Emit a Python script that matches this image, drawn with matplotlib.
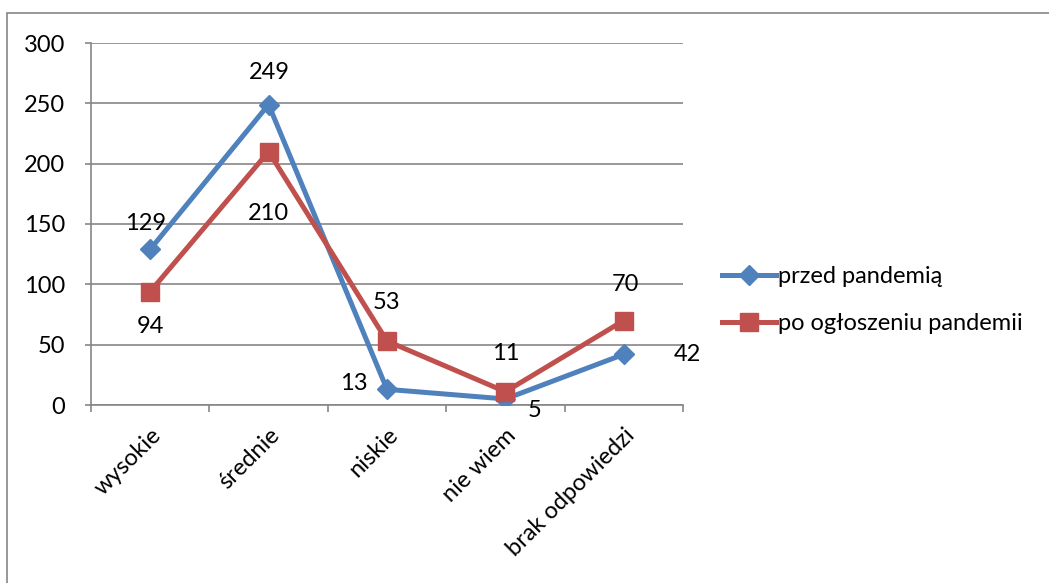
import matplotlib
matplotlib.use("Agg")
import matplotlib.pyplot as plt
import matplotlib.transforms as mtransforms
from matplotlib.patches import Rectangle

categories = ["wysokie", "średnie", "niskie", "nie wiem", "brak odpowiedzi"]
przed = [129, 249, 13, 5, 42]
po = [94, 210, 53, 11, 70]
series_names = ["przed pandemią", "po ogłoszeniu pandemii"]

# label offsets in pixels (dx, dy)
przed_offsets = [(-5, 26), (1, 32), (-33, 6), (29, -12), (64, 0)]
po_offsets = [(0, -35), (0, -62), (0, 39), (0, 38), (2, 36)]

blue = "#4F81BD"
red = "#C0504D"
grid = "#868686"

plt.rcParams["font.family"] = ["Lato", "DejaVu Sans"]
fs = 17

W, H = 1049, 583
fig = plt.figure(figsize=(W / 100, H / 100), dpi=100)

# chart border
fig.patches.append(Rectangle((7 / W, -0.1), 1.2, 1 - 13 / H + 0.1, transform=fig.transFigure,
                             fill=False, edgecolor=grid, linewidth=1.2))

ax = fig.add_axes([91 / W, 1 - 405 / H, (683 - 91) / W, (405 - 43) / H])
x = list(range(len(categories)))

ax.plot(x, przed, color=blue, linewidth=3.6, marker="D", markersize=10, label=series_names[0], zorder=3)
ax.plot(x, po, color=red, linewidth=3.6, marker="s", markersize=12.5, label=series_names[1], zorder=4)

px = 0.72
for i, v in enumerate(przed):
    dx, dy = przed_offsets[i]
    ax.annotate(str(v), (i, v), xytext=(dx * px, dy * px), textcoords="offset points",
                ha="center", va="center", fontsize=fs, zorder=5)
for i, v in enumerate(po):
    dx, dy = po_offsets[i]
    ax.annotate(str(v), (i, v), xytext=(dx * px, dy * px), textcoords="offset points",
                ha="center", va="center", fontsize=fs, zorder=5)

ax.set_xlim(-0.5, len(categories) - 0.5)
ax.set_ylim(0, 300)
ax.set_yticks(range(0, 301, 50))
ax.tick_params(axis="y", labelsize=fs)
ax.yaxis.grid(True, color=grid, linewidth=1.2)
ax.set_axisbelow(True)

ax.set_xticks([i + 0.5 for i in range(-1, len(categories))], minor=False)
ax.set_xticklabels([])
ax.set_xticks(x, minor=True)
ax.set_xticklabels(categories, minor=True, rotation=45, ha="right", va="top",
                   rotation_mode="anchor", fontsize=fs)
shift = mtransforms.ScaledTranslation(-5 / 100, 0, fig.dpi_scale_trans)
for lbl in ax.get_xticklabels(minor=True):
    lbl.set_transform(lbl.get_transform() + shift)
ax.tick_params(axis="x", which="minor", length=0, pad=14)
ax.tick_params(axis="x", which="major", length=5, color=grid, width=1.2)
ax.tick_params(axis="y", length=4.5, color=grid, width=1.2, pad=14)

for side in ["top", "right"]:
    ax.spines[side].set_visible(False)
for side in ["left", "bottom"]:
    ax.spines[side].set_color(grid)
    ax.spines[side].set_linewidth(1.2)

ax.legend(loc="center left", bbox_to_anchor=(710 / W, 1 - 300 / H), bbox_transform=fig.transFigure,
          frameon=False, fontsize=fs, handlelength=2.3, handletextpad=0.1, labelspacing=1.1,
          borderpad=0)

fig.savefig("out.png", dpi=100)
